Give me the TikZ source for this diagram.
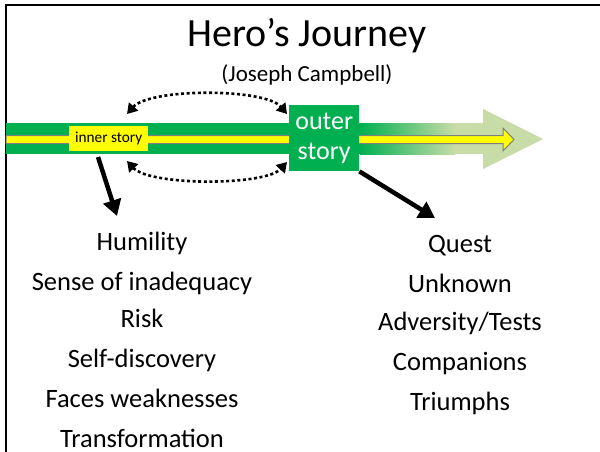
\documentclass[tikz,border=0pt]{standalone}
\usepackage{fontspec}
\setmainfont{Carlito}
\usetikzlibrary{arrows.meta}
\definecolor{band}{HTML}{00B050}
\definecolor{pale}{HTML}{C8DCA8}
\definecolor{yel}{HTML}{FFFF00}
\tikzset{
  listitem/.style={font=\fontsize{26.5}{28}\selectfont, anchor=base, inner sep=0pt},
  dotarrow/.style={line width=2.6pt, dash pattern=on 3pt off 2.6pt, {Triangle[length=10pt,width=12pt]}-{Triangle[length=10pt,width=12pt]}},
  bigarrow/.style={line width=4.5pt, -{Triangle[length=16pt,width=18pt]}},
}
\begin{document}
\begin{tikzpicture}[x=1pt,y=-1pt]
\useasboundingbox (0,0) rectangle (600,452);
% frame
\draw[line width=2pt] (6,452) -- (6,5) -- (600,5);
% title
\node[font=\fontsize{40}{44}\selectfont] (title) at (307,36) {Hero’s Journey};
\node[font=\fontsize{23}{26}\selectfont] (sub) at (307,75) {(Joseph Campbell)};
% green band
\fill[band] (6,123) rectangle (360,154);
\shade[left color=band, right color=pale] (360,123) rectangle (455,154);
\fill[pale] (454,123) rectangle (484,154);
\fill[pale] (483,109) -- (543,139) -- (483,169) -- cycle;
% yellow arrow
\draw[gray, line width=1pt, fill=yel] (6,135.5) -- (503,135.5) -- (503,128) -- (514,139.5) -- (503,151) -- (503,143.5) -- (6,143.5) -- cycle;
% outer story box
\node[fill=band, minimum width=70pt, minimum height=66pt, inner sep=0pt, anchor=north west,
      text=white, font=\fontsize{26}{30}\selectfont, align=center] (outer) at (289,105) {outer\\story};
% inner story box
\node[fill=yel, minimum width=79pt, minimum height=25pt, inner sep=0pt, anchor=north west,
      font=\fontsize{15.3}{17}\selectfont] (inner) at (69,126) {inner story};
% dotted arrows
\coordinate (ua) at (127,114);
\coordinate (ub) at (287,114);
\coordinate (la) at (127,161);
\coordinate (lb) at (287,162);
\draw[dotarrow] (ua) .. controls (150,88) and (265,88) .. (ub);
\draw[dotarrow] (la) .. controls (150,186) and (265,186) .. (lb);
% big arrows
\coordinate (l1) at (98,157);
\coordinate (l2) at (117,216);
\coordinate (r2) at (435,218);
\draw[bigarrow] (l1) -- (l2);
\draw[bigarrow] (outer.south east) -- (r2);
% lists
\node[listitem] (h) at (142,250) {Humility};
\node[listitem] (s) at (142,290) {Sense of inadequacy};
\node[listitem] (ri) at (142,327) {Risk};
\node[listitem] (sd) at (142,367) {Self-discovery};
\node[listitem] (fw) at (142,407) {Faces weaknesses};
\node[listitem] (tr) at (142,447) {Transformation};
\node[listitem] (q) at (460,252) {Quest};
\node[listitem] (u) at (460,292) {Unknown};
\node[listitem] (at) at (460,330) {Adversity/Tests};
\node[listitem] (c) at (460,370) {Companions};
\node[listitem] (tp) at (460,410) {Triumphs};
\end{tikzpicture}
\end{document}
